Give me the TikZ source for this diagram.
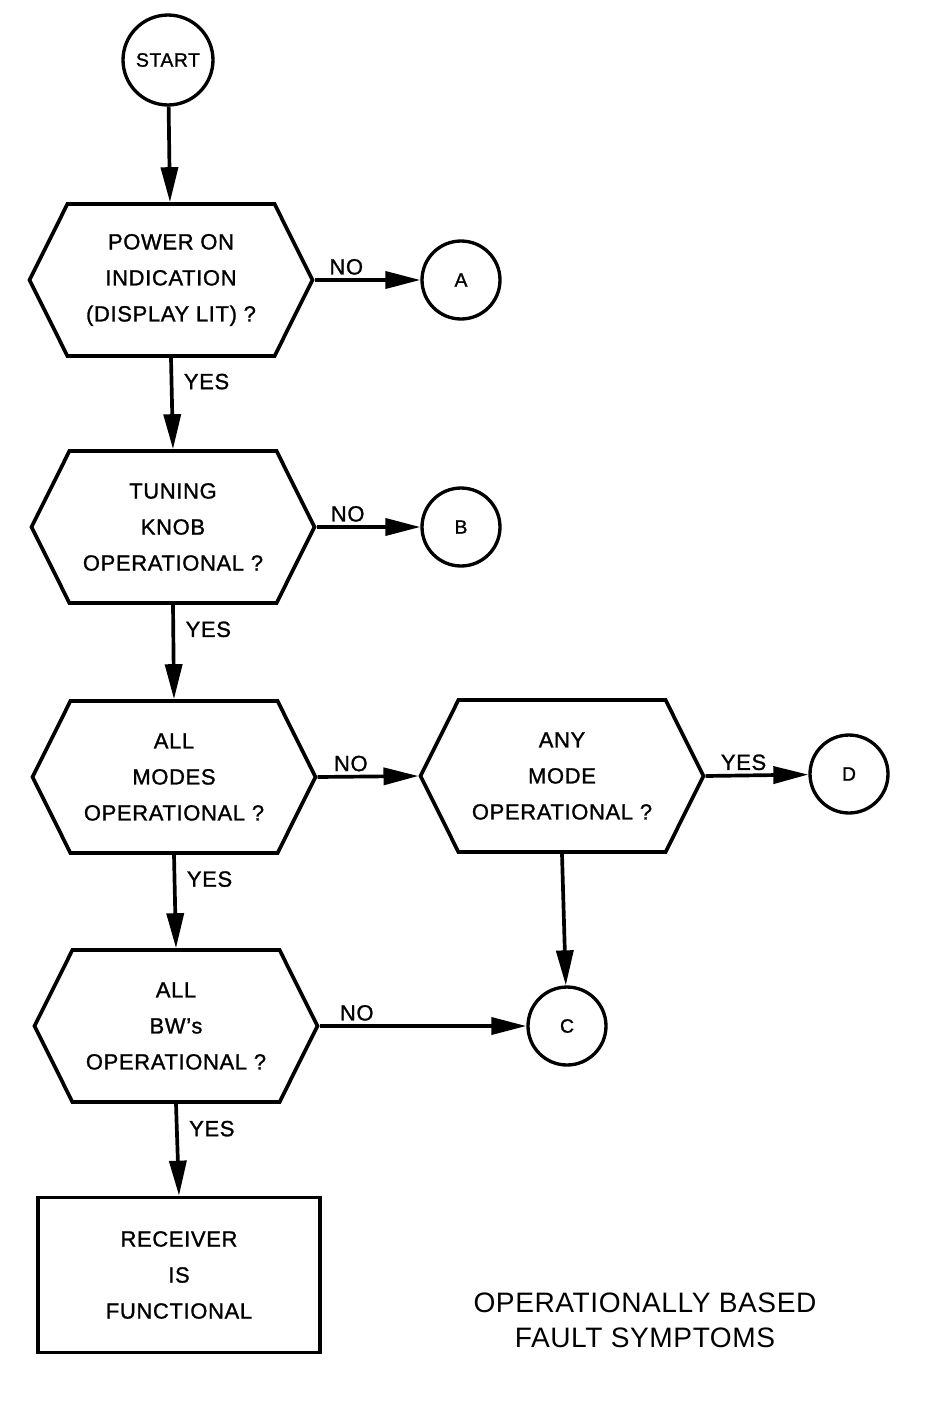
\documentclass[tikz,border=0pt]{standalone}
\usepackage{fontspec}
\setsansfont[LetterSpace=3, FakeBold=1.2]{Liberation Sans}
\newfontfamily\titulofont[LetterSpace=2]{Liberation Sans}
\usetikzlibrary{arrows.meta, shapes.symbols}
\tikzset{
  every picture/.style={font=\sffamily, >=Stealth},
  hexa/.style={draw, line width=2.1pt, shape=signal, signal to=west and east, signal pointer angle=127,
               minimum width=5.66cm, minimum height=3.04cm, inner sep=2pt,
               font=\sffamily\fontsize{12.5}{20.5}\selectfont, align=center},
  circulo/.style={draw, circle, line width=1.9pt, minimum size=1.56cm, inner sep=0pt,
               font=\sffamily\fontsize{11}{13}\selectfont},
  caja/.style={draw, line width=2.1pt, minimum width=5.64cm, minimum height=3.1cm,
               font=\sffamily\fontsize{12.5}{20.5}\selectfont, align=center},
  flecha/.style={-{Triangle[length=0.7cm, width=0.34cm]}, line width=2.1pt},
  etiq/.style={font=\sffamily\fontsize{12.5}{15}\selectfont, inner sep=2pt},
}
\begin{document}
\begin{tikzpicture}[x=0.02cm, y=-0.02cm]
  \useasboundingbox (0,0) rectangle (940,1403);
  % nodos
  \node[circulo, minimum size=1.8cm] (inicio) at (168,60) {START};
  \node[hexa] (power) at (171,280) {POWER ON\\INDICATION\\(DISPLAY LIT) ?};
  \node[circulo] (a) at (461,280) {A};
  \node[hexa] (tuning) at (173,527) {TUNING\\KNOB\\OPERATIONAL ?};
  \node[circulo] (b) at (461,527) {B};
  \node[hexa] (modes) at (174,777) {ALL\\MODES\\OPERATIONAL ?};
  \node[hexa] (anymode) at (562,776) {ANY\\MODE\\OPERATIONAL ?};
  \node[circulo] (d) at (849,774) {D};
  \node[hexa] (bws) at (176,1026) {ALL\\BW's\\OPERATIONAL ?};
  \node[circulo] (c) at (567,1026) {C};
  \node[caja] (receiver) at (179,1275) {RECEIVER\\IS\\FUNCTIONAL};
  \node[font=\titulofont\fontsize{16}{20}\selectfont, align=center] (titulo) at (645,1320) {OPERATIONALLY BASED\\FAULT SYMPTOMS};
  % conectores
  \draw[flecha] (inicio) -- (power);
  \draw[flecha] (power.east) -- node[etiq, above, pos=0.3] {NO} (a);
  \draw[flecha] (power.south) -- node[etiq, right=4pt, pos=0.26] {YES} (tuning.north);
  \draw[flecha] (tuning.east) -- node[etiq, above, pos=0.3] {NO} (b);
  \draw[flecha] (tuning.south) -- node[etiq, right=4pt, pos=0.26] {YES} (modes.north);
  \draw[flecha] (modes.east) -- node[etiq, above, pos=0.33] {NO} (anymode.west);
  \draw[flecha] (anymode.east) -- node[etiq, above, pos=0.37] {YES} (d);
  \draw[flecha] (anymode.south) -- (c);
  \draw[flecha] (modes.south) -- node[etiq, right=4pt, pos=0.26] {YES} (bws.north);
  \draw[flecha] (bws.east) -- node[etiq, above, pos=0.18] {NO} (c);
  \draw[flecha] (bws.south) -- node[etiq, right=4pt, pos=0.27] {YES} (receiver.north);
\end{tikzpicture}
\end{document}
